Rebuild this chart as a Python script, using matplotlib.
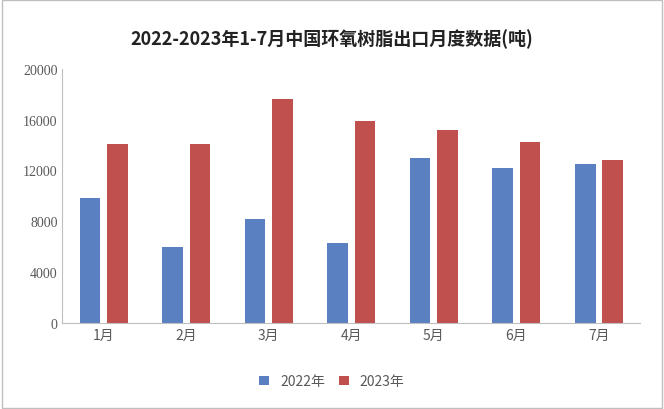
import matplotlib
matplotlib.use("Agg")
import matplotlib.pyplot as plt
import numpy as np
from matplotlib.patches import Rectangle

plt.rcParams['font.family'] = ['Noto Sans CJK SC']

title = "2022-2023年1-7月中国环氧树脂出口月度数据(吨)"
months = ["1月", "2月", "3月", "4月", "5月", "6月", "7月"]
series_names = ["2022年", "2023年"]
v2022 = [9800, 6000, 8200, 6300, 13000, 12200, 12500]
v2023 = [14100, 14100, 17600, 15900, 15200, 14250, 12800]
yticks = [0, 4000, 8000, 12000, 16000, 20000]

fig = plt.figure(figsize=(6.64, 4.10), dpi=100)
fig.patches.append(Rectangle((0.003, 0.003), 0.994, 0.994, transform=fig.transFigure,
                             fill=False, edgecolor='#bfbfbf', lw=1))
ax = fig.add_axes([0.094, 0.21, 0.87, 0.62])
x = np.arange(len(months))
w = 0.25
ax.bar(x - w/2 - 0.04, v2022, w, color='#5B80C2', label=series_names[0])
ax.bar(x + w/2 + 0.04, v2023, w, color='#C0504D', label=series_names[1])
ax.set_ylim(0, 20000)
ax.set_xlim(-0.5, len(months) - 0.5)
ax.set_yticks(yticks)
ax.set_yticklabels([str(t) for t in yticks], fontsize=10, color='#595959', fontfamily='Liberation Serif')
ax.set_xticks(x)
ax.set_xticklabels(months, fontsize=10, color='#595959')
ax.tick_params(length=0)
for s in ['top', 'right']:
    ax.spines[s].set_visible(False)
ax.spines['left'].set_color('#bfbfbf')
ax.spines['bottom'].set_color('#bfbfbf')
fig.text(0.5, 0.89, title, ha='center', fontsize=13, fontweight='bold', color='#222222')
fig.legend(loc='lower center', bbox_to_anchor=(0.5, 0.02), ncol=2, frameon=False,
           fontsize=10, handlelength=0.7, handleheight=0.7, columnspacing=1.0,
           labelcolor='#595959')
fig.savefig("out.png", dpi=100)
